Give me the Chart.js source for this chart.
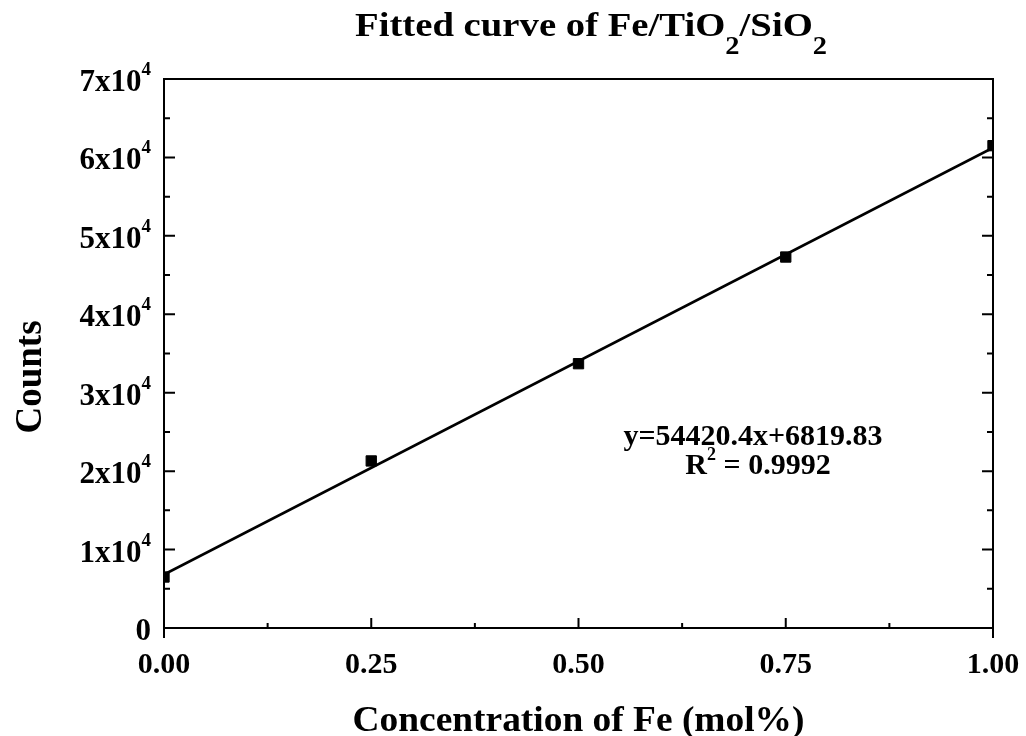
<!DOCTYPE html>
<html>
<head>
<meta charset="utf-8">
<script src="https://cdn.jsdelivr.net/npm/chart.js@4/dist/chart.umd.min.js"></script>
<style>
html,body{margin:0;padding:0;background:#fff;}
#wrap{width:1026px;height:736px;}
</style>
</head>
<body>
<div id="wrap"><canvas id="c" width="1026" height="736"></canvas></div>
<script>
// ---- data ----
const concentrations = [0, 0.25, 0.5, 0.75, 1.0];
const counts = [6500, 21300, 33700, 47300, 61500];
// fitted line endpoints (y = 54420.4x + 6819.83)
const fitX = [0, 1.0];
const fitY = [6819.83, 61240.23];
const xMajorTicks = [0, 0.25, 0.5, 0.75, 1.0];
const xTickLabels = ['0.00', '0.25', '0.50', '0.75', '1.00'];
const xMinorTicks = [0.125, 0.375, 0.625, 0.875];
const yMajorTicks = [0, 10000, 20000, 30000, 40000, 50000, 60000, 70000];
const yTickMantissa = ['0', '1', '2', '3', '4', '5', '6', '7'];
const yMinorTicks = [5000, 15000, 25000, 35000, 45000, 55000, 65000];
const titleText = ['Fitted curve of Fe/TiO', '2', '/SiO', '2'];
const xTitle = 'Concentration of Fe (mol%)';
const yTitle = 'Counts';
const eqLine = 'y=54420.4x+6819.83';
const r2Line = ['R', '2', ' = 0.9992'];

const FONT = '"Liberation Serif", "Times New Roman", serif';
function f(size){ return 'bold ' + size + 'px ' + FONT; }

// draws mixed-size text; optional target width stretches it horizontally
function drawRich(ctx, parts, px, baseY, align, targetW){
  let w = 0;
  parts.forEach(p => { ctx.font = f(p.size); p.w = ctx.measureText(p.t).width; w += p.w; });
  const sx = targetW ? targetW / w : 1;
  const W = w * sx;
  let x0 = align === 'center' ? px - W/2 : (align === 'right' ? px - W : px);
  ctx.save();
  ctx.translate(x0, baseY);
  ctx.scale(sx, 1);
  ctx.textAlign = 'left';
  ctx.textBaseline = 'alphabetic';
  let x = 0;
  parts.forEach(p => { ctx.font = f(p.size); ctx.fillText(p.t, x, (p.dy || 0)); x += p.w; });
  ctx.restore();
}

const decor = {
  id: 'decor',
  afterDraw(chart){
    const ctx = chart.ctx, a = chart.chartArea, xs = chart.scales.x, ys = chart.scales.y;
    ctx.save();
    ctx.strokeStyle = '#000';
    ctx.fillStyle = '#000';
    ctx.lineWidth = 2;
    ctx.lineJoin = 'miter';
    // frame
    ctx.beginPath();
    ctx.moveTo(a.left, a.bottom + 10);
    ctx.lineTo(a.left, a.top);
    ctx.lineTo(a.right, a.top);
    ctx.lineTo(a.right, a.bottom + 10);
    ctx.moveTo(a.left, a.bottom);
    ctx.lineTo(a.right, a.bottom);
    ctx.stroke();
    // ticks
    ctx.beginPath();
    xMajorTicks.forEach(v => { const px = xs.getPixelForValue(v); if (v > 0 && v < 1){ ctx.moveTo(px, a.bottom); ctx.lineTo(px, a.bottom - 10); } });
    xMinorTicks.forEach(v => { const px = xs.getPixelForValue(v); ctx.moveTo(px, a.bottom); ctx.lineTo(px, a.bottom - 5); });
    yMajorTicks.forEach(v => { const py = ys.getPixelForValue(v); if (v > 0 && v < 70000){
      ctx.moveTo(a.left, py); ctx.lineTo(a.left + 11, py);
      ctx.moveTo(a.right, py); ctx.lineTo(a.right - 11, py); } });
    yMinorTicks.forEach(v => { const py = ys.getPixelForValue(v);
      ctx.moveTo(a.left, py); ctx.lineTo(a.left + 6, py);
      ctx.moveTo(a.right, py); ctx.lineTo(a.right - 6, py); });
    ctx.stroke();

    // x tick labels
    xMajorTicks.forEach((v, i) => {
      drawRich(ctx, [{t:xTickLabels[i], size:30}], xs.getPixelForValue(v), a.bottom + 45, 'center');
    });

    // y tick labels
    yMajorTicks.forEach((v, i) => {
      const py = ys.getPixelForValue(v);
      if (yTickMantissa[i] === '0') {
        drawRich(ctx, [{t:'0', size:31}], a.left - 13, py + 12, 'right');
      } else {
        drawRich(ctx, [{t: yTickMantissa[i] + 'x10', size:31}, {t:'4', size:19, dy:-16}], a.left - 13, py + 12, 'right');
      }
    });

    // title
    drawRich(ctx, [
      {t:titleText[0], size:34}, {t:titleText[1], size:25, dy:18},
      {t:titleText[2], size:34}, {t:titleText[3], size:25, dy:18}
    ], 591, 36, 'center', 472);

    // x axis title
    drawRich(ctx, [{t:xTitle, size:35}], (a.left + a.right)/2, 731, 'center', 452);
    // y axis title
    ctx.save();
    ctx.translate(41, 377);
    ctx.rotate(-Math.PI/2);
    drawRich(ctx, [{t:yTitle, size:37}], 0, 0, 'center');
    ctx.restore();

    // annotation
    drawRich(ctx, [{t:eqLine, size:30}], 753, 445, 'center');
    drawRich(ctx, [{t:r2Line[0], size:30}, {t:r2Line[1], size:18, dy:-14}, {t:r2Line[2], size:30}], 758, 474, 'center');
    ctx.restore();
  }
};

new Chart(document.getElementById('c'), {
  type: 'scatter',
  data: {
    datasets: [
      {
        label: 'Data',
        data: concentrations.map((x, i) => ({x: x, y: counts[i]})),
        showLine: false,
        pointStyle: 'rect',
        pointRadius: 7.3,
        pointBorderWidth: 1,
        pointBackgroundColor: '#000',
        pointBorderColor: '#000'
      },
      {
        label: 'Fit',
        data: fitX.map((x, i) => ({x: x, y: fitY[i]})),
        showLine: true,
        pointRadius: 0,
        borderColor: '#000',
        borderWidth: 2.6,
        fill: false
      }
    ]
  },
  options: {
    responsive: false,
    animation: false,
    devicePixelRatio: 1,
    layout: { padding: { left: 164, right: 33, top: 79, bottom: 108 } },
    plugins: { legend: { display: false }, tooltip: { enabled: false }, title: { display: false } },
    scales: {
      x: { type: 'linear', min: 0, max: 1, display: false },
      y: { type: 'linear', min: 0, max: 70000, display: false }
    }
  },
  plugins: [decor]
});
</script>
</body>
</html>
